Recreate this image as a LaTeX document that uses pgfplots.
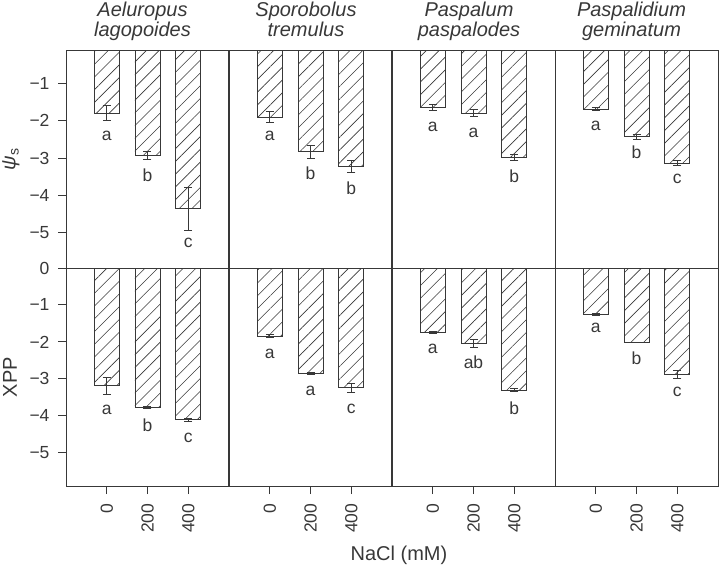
\documentclass[border=0pt]{standalone}
\usepackage{pgfplots}
\pgfplotsset{compat=1.18}
\usepackage{fontspec}
\setmainfont{Liberation Sans}
\usetikzlibrary{patterns.meta}
\newcommand{\fs}{\fontsize{17.5}{21}\selectfont}
\newcommand{\fl}{\fontsize{20}{24}\selectfont}
\definecolor{ink}{gray}{0.22}
\tikzset{lett/.style={font=\fs, text=ink, anchor=center}}
\pgfplotsset{
  panel/.style={scale only axis, width=163pt, height=218pt, anchor=north west,
    xmin=0, xmax=4, axis line style={ink, line width=1pt},
    tick style={ink, line width=1pt}, tick align=outside, major tick length=8pt,
    xtick pos=bottom, ytick pos=left, clip=true,
    /pgf/number format/assume math mode=true,
    tick label style={font=\fs, text=ink},
    yticklabel shift=5pt, xticklabel shift=6pt},
  toprow/.style={ymin=-5.95, ymax=-0.1, xtick=\empty},
  botrow/.style={ymin=-5.9, ymax=0, xtick={1,2,3}, xticklabels={0,200,400},
    xticklabel style={rotate=90, anchor=east}},
  topfirst/.style={ytick={-5,-4,-3,-2,-1}, yticklabels={−5,−4,−3,−2,−1}},
  botfirst/.style={ytick={-5,-4,-3,-2,-1,0}, yticklabels={−5,−4,−3,−2,−1,0}},
  othercol/.style={ytick=\empty},
  bars/.style={ybar, bar width=25pt, bar shift=0pt, draw=ink, line width=0.8pt,
    pattern={Lines[angle=45,distance=9pt,line width=0.6pt]}, pattern color=ink,
    error bars/y dir=both, error bars/y explicit,
    error bars/error bar style={line width=0.9pt, ink, solid},
    error bars/error mark options={rotate=90, ink, mark size=4pt, line width=0.9pt}},
}
\begin{document}
\begin{tikzpicture}[font=\fs]
% ---------- top row: psi_s ----------
\begin{axis}[panel, toprow, topfirst, at={(66pt,-50pt)}]
\addplot[bars] coordinates {(1,-1.79) +- (0,0.20) (2,-2.93) +- (0,0.12) (3,-4.36) +- (0,0.57)};
\node[lett] at (axis cs:1,-2.41) {a};
\node[lett] at (axis cs:2,-3.46) {b};
\node[lett] at (axis cs:3,-5.28) {c};
\end{axis}
\begin{axis}[panel, toprow, othercol, at={(229pt,-50pt)}]
\addplot[bars] coordinates {(1,-1.90) +- (0,0.15) (2,-2.83) +- (0,0.18) (3,-3.22) +- (0,0.16)};
\node[lett] at (axis cs:1,-2.41) {a};
\node[lett] at (axis cs:2,-3.40) {b};
\node[lett] at (axis cs:3,-3.80) {b};
\end{axis}
\begin{axis}[panel, toprow, othercol, at={(392pt,-50pt)}]
\addplot[bars] coordinates {(1,-1.63) +- (0,0.08) (2,-1.79) +- (0,0.09) (3,-2.98) +- (0,0.09)};
\node[lett] at (axis cs:1,-2.16) {a};
\node[lett] at (axis cs:2,-2.32) {a};
\node[lett] at (axis cs:3,-3.50) {b};
\end{axis}
\begin{axis}[panel, toprow, othercol, at={(555pt,-50pt)}]
\addplot[bars] coordinates {(1,-1.69) +- (0,0.04) (2,-2.43) +- (0,0.07) (3,-3.14) +- (0,0.07)};
\node[lett] at (axis cs:1,-2.14) {a};
\node[lett] at (axis cs:2,-2.85) {b};
\node[lett] at (axis cs:3,-3.57) {c};
\end{axis}
% ---------- bottom row: XPP ----------
\begin{axis}[panel, botrow, botfirst, at={(66pt,-268pt)}]
\addplot[bars] coordinates {(1,-3.18) +- (0,0.23) (2,-3.77) +- (0,0.02) (3,-4.11) +- (0,0.05)};
\node[lett] at (axis cs:1,-3.85) {a};
\node[lett] at (axis cs:2,-4.26) {b};
\node[lett] at (axis cs:3,-4.60) {c};
\end{axis}
\begin{axis}[panel, botrow, othercol, at={(229pt,-268pt)}]
\addplot[bars] coordinates {(1,-1.84) +- (0,0.03) (2,-2.85) +- (0,0.03) (3,-3.24) +- (0,0.12)};
\node[lett] at (axis cs:1,-2.32) {a};
\node[lett] at (axis cs:2,-3.32) {a};
\node[lett] at (axis cs:3,-3.81) {c};
\end{axis}
\begin{axis}[panel, botrow, othercol, at={(392pt,-268pt)}]
\addplot[bars] coordinates {(1,-1.74) +- (0,0.03) (2,-2.04) +- (0,0.12) (3,-3.31) +- (0,0.04)};
\node[lett] at (axis cs:1,-2.18) {a};
\node[lett] at (axis cs:2,-2.56) {ab};
\node[lett] at (axis cs:3,-3.79) {b};
\end{axis}
\begin{axis}[panel, botrow, othercol, at={(555pt,-268pt)}]
\addplot[bars] coordinates {(1,-1.25) +- (0,0.03) (2,-2.02) +- (0,0.0) (3,-2.88) +- (0,0.10)};
\node[lett] at (axis cs:1,-1.63) {a};
\node[lett] at (axis cs:2,-2.44) {b};
\node[lett] at (axis cs:3,-3.35) {c};
\end{axis}
% ---------- titles and labels ----------
\begin{scope}[every node/.style={font=\fl\itshape, text=ink, anchor=base}]
\node at (142.5pt,-16.5pt) {Aeluropus};
\node at (142.5pt,-36.5pt) {lagopoides};
\node at (306pt,-16.5pt) {Sporobolus};
\node at (306pt,-36.5pt) {tremulus};
\node at (469pt,-16.5pt) {Paspalum};
\node at (469pt,-36.5pt) {paspalodes};
\node at (631.5pt,-16.5pt) {Paspalidium};
\node at (631.5pt,-36.5pt) {geminatum};
\end{scope}
\node[rotate=90, text=ink, font=\fl] at (11pt,-159pt) {\textit{ψ}\textsubscript{s}};
\node[rotate=90, text=ink, font=\fl] at (10pt,-377pt) {XPP};
\node[anchor=base, text=ink, font=\fl] at (399pt,-560pt) {NaCl (mM)};
\pgfresetboundingbox
\useasboundingbox (0pt,0pt) rectangle (720pt,-566pt);
\end{tikzpicture}
\end{document}
